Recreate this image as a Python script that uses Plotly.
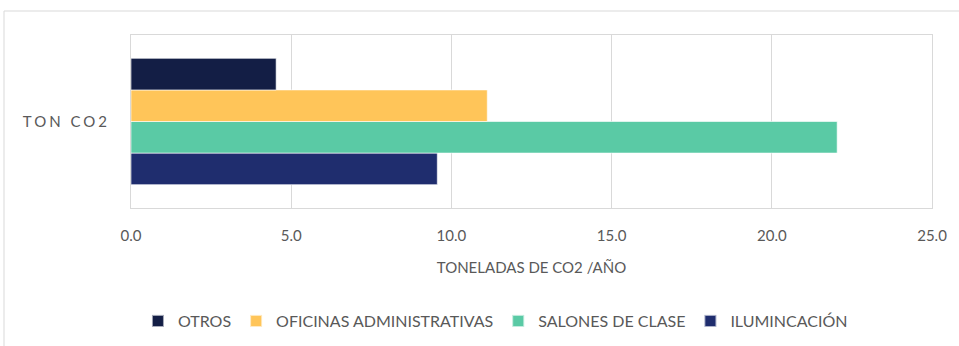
import plotly.graph_objects as go

# Emisiones anuales por categoría (toneladas de CO2 / año)
category = ["TON CO2"]
series_names = ["OTROS", "OFICINAS ADMINISTRATIVAS", "SALONES DE CLASE", "ILUMINCACIÓN"]
series_values = [4.53, 11.12, 22.04, 9.56]
series_colors = ["#131E45", "#FFC559", "#5ACAA5", "#1F2D6E"]
x_ticks = [0, 5, 10, 15, 20, 25]
x_tick_labels = ["0.0", "5.0", "10.0", "15.0", "20.0", "25.0"]

W, H = 959, 346
L, R, T, B = 131, 27, 35, 138
pw, ph = W - L - R, H - T - B

fig = go.Figure()
# plotly stacks grouped horizontal bars bottom-up, so add in reverse
for name, val, col in reversed(list(zip(series_names, series_values, series_colors))):
    fig.add_trace(go.Bar(
        y=category, x=[val], name=name, orientation="h",
        marker=dict(color=col, line=dict(color="rgba(255,255,255,0.6)", width=1)),
    ))

font = "Lato, 'Open Sans', sans-serif"
grey = "#595959"
grid = "#D9D9D9"

# outer chart frame (open at the bottom and right edges of the page)
def px_x(x):
    return (x - L) / pw

def px_y(y):
    return (H - B - y) / ph

fig.add_shape(type="rect", xref="paper", yref="paper",
              x0=px_x(4), x1=px_x(970), y0=px_y(380), y1=px_y(11),
              line=dict(color=grid, width=1), fillcolor="rgba(0,0,0,0)", layer="below")

fig.update_layout(
    width=W, height=H,
    margin=dict(l=L, r=R, t=T, b=B, autoexpand=False),
    paper_bgcolor="white", plot_bgcolor="white",
    barmode="group", bargap=0.27, bargroupgap=0,
    font=dict(family=font, color=grey, size=14),
    showlegend=True,
    legend=dict(orientation="h", traceorder="reversed",
                x=0.455, xanchor="center",
                yref="container", y=(H - 321) / H, yanchor="middle",
                font=dict(family=font, size=16, color=grey),
                itemwidth=30, itemsizing="constant"),
    xaxis=dict(range=[0, 25], tickvals=x_ticks, ticktext=x_tick_labels,
               showgrid=True, gridcolor=grid, gridwidth=1,
               showline=True, linecolor=grid, mirror=True, zeroline=False,
               ticks="", tickfont=dict(size=15, color=grey),
               ticklabelstandoff=14,
               title=dict(text="TONELADAS DE CO2 /AÑO", font=dict(size=15, color=grey),
                          standoff=19)),
    yaxis=dict(showgrid=False, showline=True, linecolor=grid, mirror=True,
               ticks="", tickfont=dict(size=15, color=grey),
               tickvals=category,
               ticktext=['<span style="letter-spacing:3px">%s</span>' % c for c in category],
               ticklabelstandoff=17),
)

fig.write_html("out.html")
